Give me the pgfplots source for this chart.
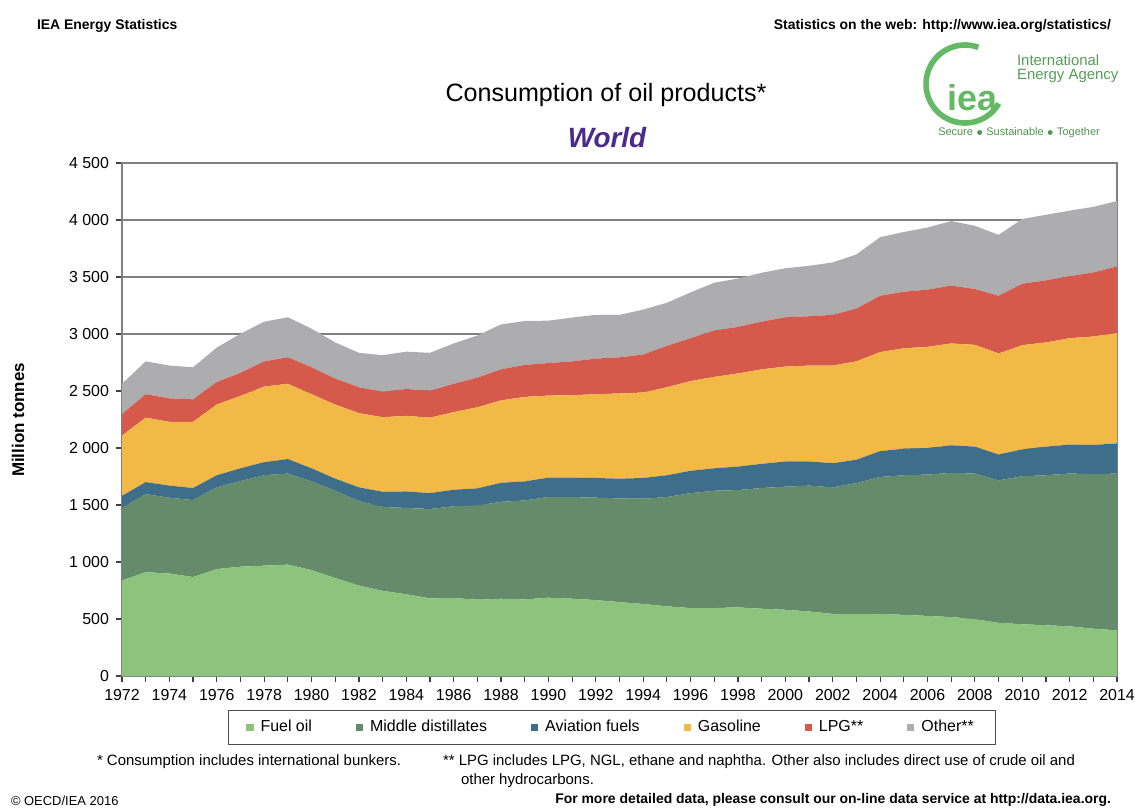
\documentclass[border=0pt]{standalone}
\usepackage{pgfplots}
\pgfplotsset{compat=1.18}
\usepackage{pgfplotstable}
\usepackage{fontspec}
\setmainfont{Liberation Sans}
\definecolor{fuel}{RGB}{141,195,125}
\definecolor{mid}{RGB}{100,140,106}
\definecolor{avi}{RGB}{63,110,138}
\definecolor{gas}{RGB}{243,185,70}
\definecolor{lpg}{RGB}{214,90,76}
\definecolor{oth}{RGB}{173,173,176}
\definecolor{worldc}{RGB}{75,42,140}
\definecolor{ieagreen}{RGB}{100,185,100}
\definecolor{gridc}{RGB}{128,128,128}

\pgfplotstableread{
year F M A G L O
1972 838 636 106 529 188 266
1973 911 684 106 565 206 288
1974 899 665 106 560 206 287
1975 868 675 106 581 197 281
1976 938 717 106 620 197 303
1977 959 751 112 635 203 342
1978 968 793 115 663 221 348
1979 977 799 127 660 233 351
1980 929 778 115 650 236 339
1981 859 766 106 650 227 318
1982 793 741 121 651 227 302
1983 747 736 133 654 223 321
1984 717 757 145 663 236 327
1985 681 784 139 662 237 332
1986 684 805 145 681 248 354
1987 669 826 151 711 260 370
1988 678 850 167 723 272 394
1989 672 868 167 741 281 385
1990 687 883 170 720 285 372
1991 678 892 170 723 297 384
1992 666 898 173 735 312 384
1993 648 910 173 747 318 372
1994 632 923 182 750 333 394
1995 611 959 191 772 363 378
1996 596 1008 196 787 376 402
1997 596 1029 197 802 408 418
1998 602 1029 206 817 408 424
1999 590 1059 212 829 418 429
2000 581 1080 221 832 433 430
2001 566 1104 212 841 433 442
2002 545 1110 212 856 445 460
2003 542 1150 205 863 463 475
2004 545 1201 227 868 494 514
2005 536 1225 233 881 496 524
2006 527 1240 233 887 502 545
2007 517 1265 242 893 508 566
2008 499 1277 236 893 490 554
2009 466 1250 227 886 506 535
2010 454 1298 236 914 539 568
2011 445 1316 251 914 545 575
2012 436 1340 254 933 544 575
2013 415 1355 257 951 562 575
2014 400 1376 264 968 584 575
}\oildata

\begin{document}
\begin{tikzpicture}[x=1bp,y=1bp]
\path[use as bounding box] (0,0) rectangle (567.5,404);
\begin{axis}[
  at={(61bp,66bp)}, anchor=south west,
  scale only axis, width=497.5bp, height=256.5bp,
  xmin=1972, xmax=2014, ymin=0, ymax=4500,
  stack plots=y,
  xtick={1972,1974,...,2014},
  minor xtick={1973,1975,...,2013},
  ytick={0,500,...,4500},
  yticklabels={0,500,1 000,1 500,2 000,2 500,3 000,3 500,4 000,4 500},
  xticklabel style={/pgf/number format/1000 sep={}},
  /pgf/number format/assume math mode=true,
  tick label style={font=\fontsize{8}{9.6}\selectfont},
  tick align=outside, tick pos=left,
  major tick length=3bp, minor tick length=3bp,
  tick style={draw=black!75, line width=0.6bp},
  ymajorgrids,
  grid style={draw=gridc, line width=0.75bp},
  axis line style={draw=gridc, line width=0.75bp},
  legend columns=6,
  legend cell align=left,
  legend style={at={(0.4925,-0.1004)}, anchor=center, draw=black!70, line width=0.5bp,
    font=\fontsize{8}{9.6}\selectfont, inner xsep=9bp, inner ysep=3bp,
    /tikz/every odd column/.append style={column sep=1.5bp},
    /tikz/every even column/.append style={column sep=20bp}},
  legend image code/.code={\fill[#1] (0bp,-1.8bp) rectangle (3.6bp,1.8bp);},
]
\addplot[fill=fuel, draw=none] table[x=year,y=F]{\oildata} \closedcycle;
\addplot[fill=mid, draw=none] table[x=year,y=M]{\oildata} \closedcycle;
\addplot[fill=avi, draw=none] table[x=year,y=A]{\oildata} \closedcycle;
\addplot[fill=gas, draw=none] table[x=year,y=G]{\oildata} \closedcycle;
\addplot[fill=lpg, draw=none] table[x=year,y=L]{\oildata} \closedcycle;
\addplot[fill=oth, draw=none] table[x=year,y=O]{\oildata} \closedcycle;
\legend{Fuel oil, Middle distillates, Aviation fuels, Gasoline, LPG**, Other**}
\end{axis}

% header
\node[anchor=west, font=\bfseries\fontsize{7}{8}\selectfont] at (15,391) {IEA Energy Statistics};
\node[anchor=east, font=\bfseries\fontsize{7}{8}\selectfont] at (559,391) {Statistics on the web: http://www.iea.org/statistics/};
\node[font=\fontsize{12.6}{14}\selectfont] at (303,356.5) {Consumption of oil products*};
\node[font=\bfseries\itshape\fontsize{14}{16}\selectfont, text=worldc] at (303.5,335) {World};
% logo
\draw[ieagreen, line width=2.8bp] (482.5,362) ++(70:19.5) arc (70:330:19.5);
\node[font=\bfseries\fontsize{18}{18}\selectfont, text=ieagreen] at (486,355) {iea};
\node[anchor=west, font=\fontsize{7.5}{8}\selectfont, text=ieagreen!85!black] at (505,374) {International};
\node[anchor=west, font=\fontsize{7.5}{8}\selectfont, text=ieagreen!85!black] at (505,366) {Energy Agency};
\node[font=\fontsize{5.5}{6}\selectfont, text=ieagreen!80!black] at (509.5,337.5) {Secure $\bullet$ Sustainable $\bullet$ Together};
% y label
\node[rotate=90, font=\bfseries\fontsize{8.5}{10}\selectfont] at (9,194) {Million tonnes};
% footnotes
\node[anchor=west, font=\fontsize{7.5}{9}\selectfont] at (45,23) {* Consumption includes international bunkers.};
\node[anchor=west, font=\fontsize{7.5}{9}\selectfont] at (218,23) {** LPG includes LPG, NGL, ethane and naphtha. Other also includes direct use of crude oil and};
\node[anchor=west, font=\fontsize{7.5}{9}\selectfont] at (227,13.5) {other hydrocarbons.};
\node[anchor=west, font=\fontsize{6.5}{7}\selectfont] at (2,3.8) {\textcopyright{} OECD/IEA 2016};
\node[anchor=east, font=\bfseries\fontsize{7}{8}\selectfont] at (559,4.2) {For more detailed data, please consult our on-line data service at http://data.iea.org.};
\end{tikzpicture}
\end{document}
